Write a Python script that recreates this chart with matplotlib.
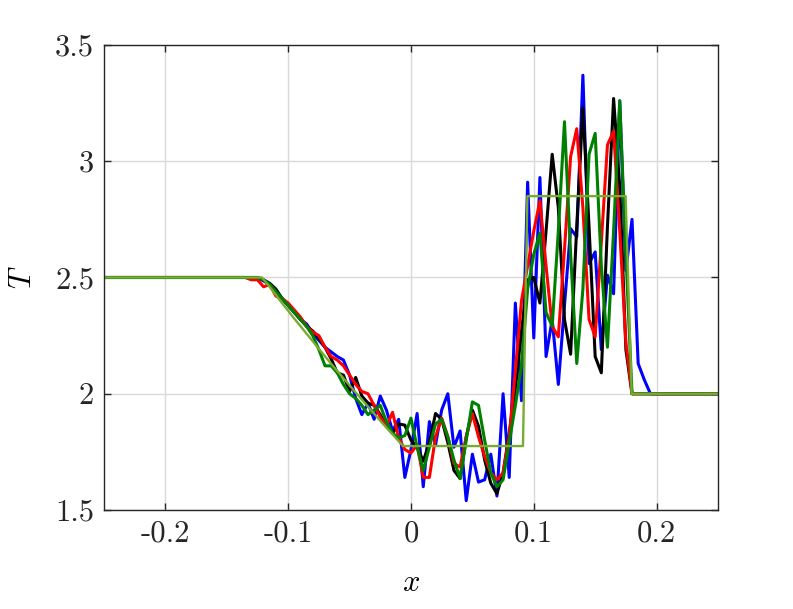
import numpy as np
import matplotlib
matplotlib.use("Agg")
import matplotlib.pyplot as plt

plt.rcParams["mathtext.fontset"] = "cm"
plt.rcParams["axes.unicode_minus"] = False

# sampling grid of the numerical solutions
x = np.linspace(-0.25, 0.25, 101)

left_state = [2.5] * 24
right_state = [2.0] * 11

# values for grid points i = 24 .. 89
blue_mid = [2.50, 2.50, 2.485, 2.47, 2.445, 2.41, 2.38, 2.35, 2.32, 2.30,
            2.26, 2.23, 2.20, 2.18, 2.16, 2.145, 2.08, 1.98, 1.91, 1.96,
            1.89, 1.99, 1.93, 1.84, 1.89, 1.64, 1.76, 1.915, 1.60, 1.88,
            1.78, 1.93, 2.00, 1.77, 1.84, 1.54, 1.74, 1.62, 1.63, 1.74,
            1.56, 2.00, 1.64, 2.39, 1.97, 2.91, 2.24, 2.93, 2.16, 2.32,
            2.04, 2.38, 2.71, 2.675, 3.37, 2.56, 2.61, 2.19, 2.51, 2.43,
            3.26, 2.53, 2.75, 2.13, 2.06, 2.0]
black_mid = [2.50, 2.50, 2.49, 2.475, 2.45, 2.41, 2.38, 2.35, 2.32, 2.29,
             2.27, 2.24, 2.20, 2.15, 2.09, 2.08, 2.01, 2.07, 1.99, 1.96,
             1.95, 1.91, 1.86, 1.83, 1.87, 1.865, 1.80, 1.77, 1.71, 1.79,
             1.915, 1.89, 1.79, 1.67, 1.635, 1.815, 1.93, 1.86, 1.715, 1.615,
             1.57, 1.66, 1.83, 2.02, 2.27, 2.49, 2.50, 2.39, 2.70, 3.03,
             2.80, 2.32, 2.17, 2.72, 3.23, 2.72, 2.16, 2.09, 2.72, 3.27,
             2.89, 2.19, 2.00, 2.0, 2.0, 2.0]
red_mid = [2.49, 2.49, 2.46, 2.47, 2.42, 2.41, 2.39, 2.36, 2.33, 2.29,
           2.265, 2.25, 2.20, 2.16, 2.145, 2.12, 2.08, 2.04, 2.01, 2.00,
           1.95, 1.90, 1.86, 1.92, 1.81, 1.76, 1.745, 1.78, 1.64, 1.64,
           1.815, 1.895, 1.815, 1.70, 1.685, 1.815, 1.915, 1.815, 1.73, 1.66,
           1.63, 1.66, 1.815, 2.10, 2.40, 2.55, 2.70, 2.83, 2.55, 2.29,
           2.245, 2.62, 3.02, 3.14, 2.80, 2.32, 2.245, 2.65, 3.07, 3.13,
           2.70, 2.22, 2.00, 2.0, 2.0, 2.0]
green_mid = [2.50, 2.50, 2.49, 2.47, 2.44, 2.41, 2.38, 2.35, 2.32, 2.29,
             2.25, 2.19, 2.12, 2.12, 2.09, 2.04, 2.00, 1.98, 1.95, 1.91,
             1.93, 1.95, 1.88, 1.83, 1.81, 1.82, 1.895, 1.77, 1.67, 1.77,
             1.87, 1.89, 1.815, 1.715, 1.635, 1.80, 1.965, 1.95, 1.80, 1.66,
             1.60, 1.63, 1.79, 1.95, 2.12, 2.45, 2.60, 2.69, 2.35, 2.29,
             2.70, 3.17, 2.60, 2.13, 2.45, 3.03, 3.12, 2.55, 2.20, 2.70,
             3.26, 2.60, 2.00, 2.0, 2.0, 2.0]

T_blue = left_state + blue_mid + right_state
T_black = left_state + black_mid + right_state
T_red = left_state + red_mid + right_state
T_green = left_state + green_mid + right_state

# exact solution
ex_x = [-0.25, -0.1213, -0.115, -0.11, -0.105, -0.10, -0.095, -0.09, -0.085,
        -0.08, -0.075, -0.07, -0.065, -0.06, -0.055, -0.05, -0.045, -0.04,
        -0.035, -0.03, -0.025, -0.02, -0.015, -0.01, -0.0065, 0.0912, 0.0948,
        0.1748, 0.1797, 0.25]
ex_T = [2.5, 2.5, 2.459, 2.425, 2.390, 2.357, 2.323, 2.291, 2.258, 2.226,
        2.193, 2.161, 2.129, 2.098, 2.067, 2.036, 2.005, 1.975, 1.944, 1.914,
        1.884, 1.854, 1.825, 1.796, 1.775, 1.775, 2.85, 2.85, 2.0, 2.0]

xticks = [-0.2, -0.1, 0, 0.1, 0.2]
xtick_labels = ["-0.2", "-0.1", "0", "0.1", "0.2"]
yticks = [1.5, 2, 2.5, 3, 3.5]
ytick_labels = ["1.5", "2", "2.5", "3", "3.5"]

fig = plt.figure(figsize=(7.93, 6.09), dpi=100)
ax = fig.add_axes([0.1311, 0.1626, 0.7743, 0.7635])

ax.plot(x, T_blue, color=(0, 0, 1), lw=2.2)
ax.plot(x, T_black, color="black", lw=2.2)
ax.plot(x, T_red, color=(1, 0, 0), lw=2.2)
ax.plot(x, T_green, color=(0, 0.5, 0), lw=2.2)
ax.plot(ex_x, ex_T, color=(0.466, 0.674, 0.188), lw=1.7)

ax.set_xlim(-0.25, 0.25)
ax.set_ylim(1.5, 3.5)
ax.set_xticks(xticks)
ax.set_xticklabels(xtick_labels, fontfamily="cmr10", fontsize=22)
ax.set_yticks(yticks)
ax.set_yticklabels(ytick_labels, fontfamily="cmr10", fontsize=22)
ax.grid(True, color=(0.85, 0.85, 0.85), lw=1.0)
ax.set_axisbelow(True)
ax.tick_params(direction="in", length=5, width=1.0, top=True, right=True,
               colors=(0.15, 0.15, 0.15), pad=7)
for s in ax.spines.values():
    s.set_color((0.15, 0.15, 0.15))
    s.set_linewidth(1.0)

ax.set_xlabel("$x$", fontsize=22, labelpad=15)
ax.set_ylabel("$T$", fontsize=22, labelpad=13)

fig.savefig("out.png", dpi=100)
